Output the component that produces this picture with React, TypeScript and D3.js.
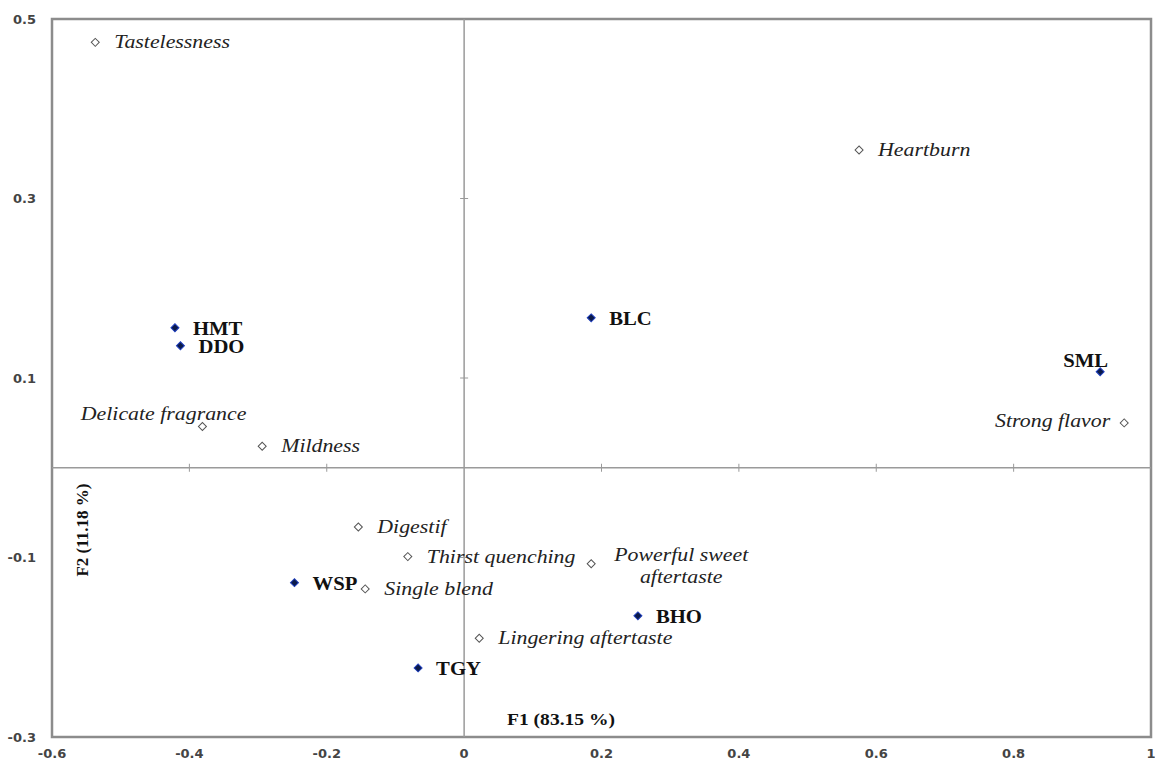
import React, { useEffect, useRef } from 'react';
import * as d3 from 'd3';

// products (filled markers)
const productNames = ['HMT', 'DDO', 'BLC', 'SML', 'WSP', 'BHO', 'TGY'];
const productF1 = [-0.421, -0.413, 0.185, 0.926, -0.247, 0.253, -0.067];
const productF2 = [0.156, 0.136, 0.167, 0.107, -0.128, -0.165, -0.223];

// sensory attributes (open markers)
const attrNames = [
  'Tastelessness', 'Heartburn', 'Delicate fragrance', 'Mildness', 'Strong flavor',
  'Digestif', 'Thirst quenching', 'Powerful sweet aftertaste', 'Single blend', 'Lingering aftertaste',
];
const attrF1 = [-0.537, 0.575, -0.381, -0.294, 0.961, -0.154, -0.082, 0.185, -0.144, 0.022];
const attrF2 = [0.474, 0.354, 0.046, 0.024, 0.050, -0.066, -0.099, -0.107, -0.135, -0.190];

const xTicks = [-0.6, -0.4, -0.2, 0, 0.2, 0.4, 0.6, 0.8, 1];
const yTicks = [-0.3, -0.1, 0.1, 0.3, 0.5];

const xTitle = 'F1 (83.15 %)';
const yTitle = 'F2 (11.18 %)';

// where each label sits relative to its marker
const labelPlace: Record<string, { dx: number; dy: number; anchor: string; lines?: string[] }> = {
  SML: { dx: 8, dy: -5, anchor: 'end' },
  'Delicate fragrance': { dx: 44, dy: -6, anchor: 'end' },
  'Strong flavor': { dx: -14, dy: 4, anchor: 'end' },
  'Powerful sweet aftertaste': { dx: 90, dy: -3, anchor: 'middle', lines: ['Powerful sweet', 'aftertaste'] },
};

const W = 1155;
const H = 762;
const M = { left: 52, right: 1151, top: 19, bottom: 737 };
const SX = 1.15; // the serif labels are a bit wide in the original

export default function App() {
  const ref = useRef<SVGSVGElement>(null);

  useEffect(() => {
    const svg = d3.select(ref.current);
    svg.selectAll('*').remove();

    const x = d3.scaleLinear().domain([-0.6, 1]).range([M.left, M.right]);
    const y = d3.scaleLinear().domain([-0.3, 0.5]).range([M.bottom, M.top]);

    // frame
    svg.append('rect')
      .attr('x', M.left).attr('y', M.top)
      .attr('width', M.right - M.left).attr('height', M.bottom - M.top)
      .attr('fill', 'none').attr('stroke', '#8c8c8c').attr('stroke-width', 2.5);

    // centre axes
    svg.append('line')
      .attr('x1', x(0)).attr('x2', x(0)).attr('y1', M.top).attr('y2', M.bottom)
      .attr('stroke', '#9a9a9a').attr('stroke-width', 1.5);
    svg.append('line')
      .attr('x1', M.left).attr('x2', M.right).attr('y1', y(0)).attr('y2', y(0))
      .attr('stroke', '#9a9a9a').attr('stroke-width', 1.5);

    // small cross ticks on the centre axes
    svg.selectAll('.ytk').data(yTicks.slice(1, -1)).enter().append('line')
      .attr('x1', x(0) - 4).attr('x2', x(0) + 4)
      .attr('y1', d => y(d)).attr('y2', d => y(d))
      .attr('stroke', '#9a9a9a').attr('stroke-width', 1);
    svg.selectAll('.xtk').data(xTicks.filter(d => d !== 0 && d !== -0.6 && d !== 1)).enter().append('line')
      .attr('y1', y(0) - 4).attr('y2', y(0) + 4)
      .attr('x1', d => x(d)).attr('x2', d => x(d))
      .attr('stroke', '#9a9a9a').attr('stroke-width', 1);

    const tickFont = '"DejaVu Sans", Verdana, sans-serif';
    svg.selectAll('.xl').data(xTicks).enter().append('text')
      .attr('x', d => x(d)).attr('y', 758)
      .attr('text-anchor', 'middle')
      .attr('font-family', tickFont).attr('font-size', 13).attr('font-weight', 'bold')
      .attr('fill', '#444')
      .text(d => String(d));
    svg.selectAll('.yl').data(yTicks).enter().append('text')
      .attr('x', 36).attr('y', d => y(d)).attr('dy', '0.36em')
      .attr('text-anchor', 'end')
      .attr('font-family', tickFont).attr('font-size', 13).attr('font-weight', 'bold')
      .attr('fill', '#444')
      .text(d => String(d));

    const serif = '"Liberation Serif", "Times New Roman", serif';
    const diamond = d3.symbol().type(d3.symbolSquare).size(32);
    const at = (px: number, py: number) => `translate(${px},${py}) scale(${SX},1)`;

    // attributes
    const attrs = attrNames.map((n, i) => ({ name: n, f1: attrF1[i], f2: attrF2[i] }));
    svg.selectAll('.am').data(attrs).enter().append('path')
      .attr('d', diamond)
      .attr('transform', d => `translate(${x(d.f1)},${y(d.f2)}) rotate(45)`)
      .attr('fill', '#fff').attr('stroke', '#555').attr('stroke-width', 1);
    attrs.forEach(d => {
      const p = labelPlace[d.name] || { dx: 19, dy: 6, anchor: 'start' };
      const t = svg.append('text')
        .attr('transform', at(x(d.f1) + p.dx, y(d.f2) + p.dy))
        .attr('text-anchor', p.anchor)
        .attr('font-family', serif).attr('font-size', 19).attr('font-style', 'italic')
        .attr('fill', '#222');
      if (p.lines) {
        p.lines.forEach((l, k) => {
          t.append('tspan').attr('x', 0).attr('dy', k === 0 ? 0 : 22).text(l);
        });
      } else {
        t.text(d.name);
      }
    });

    // products
    const prods = productNames.map((n, i) => ({ name: n, f1: productF1[i], f2: productF2[i] }));
    svg.selectAll('.pm').data(prods).enter().append('path')
      .attr('d', diamond)
      .attr('transform', d => `translate(${x(d.f1)},${y(d.f2)}) rotate(45)`)
      .attr('fill', '#0b1a4a').attr('stroke', '#1f3fbf').attr('stroke-width', 1);
    svg.selectAll('.pl').data(prods).enter().append('text')
      .attr('transform', d => at(
        x(d.f1) + (labelPlace[d.name]?.dx ?? 18),
        y(d.f2) + (labelPlace[d.name]?.dy ?? 7)))
      .attr('text-anchor', d => labelPlace[d.name]?.anchor ?? 'start')
      .attr('font-family', serif).attr('font-size', 18).attr('font-weight', 'bold')
      .attr('fill', '#111')
      .text(d => d.name);

    // axis titles
    svg.append('text')
      .attr('transform', at(561, 725))
      .attr('text-anchor', 'middle')
      .attr('font-family', serif).attr('font-size', 17).attr('font-weight', 'bold')
      .attr('fill', '#111')
      .text(xTitle);
    svg.append('text')
      .attr('transform', 'translate(88,530) rotate(-90)')
      .attr('text-anchor', 'middle')
      .attr('font-family', serif).attr('font-size', 17).attr('font-weight', 'bold')
      .attr('fill', '#111')
      .text(yTitle);
  }, []);

  return (
    <div style={{ position: 'absolute', left: 0, top: 0 }}>
      <svg ref={ref} width={W} height={H} style={{ display: 'block', background: '#fff' }} />
    </div>
  );
}
